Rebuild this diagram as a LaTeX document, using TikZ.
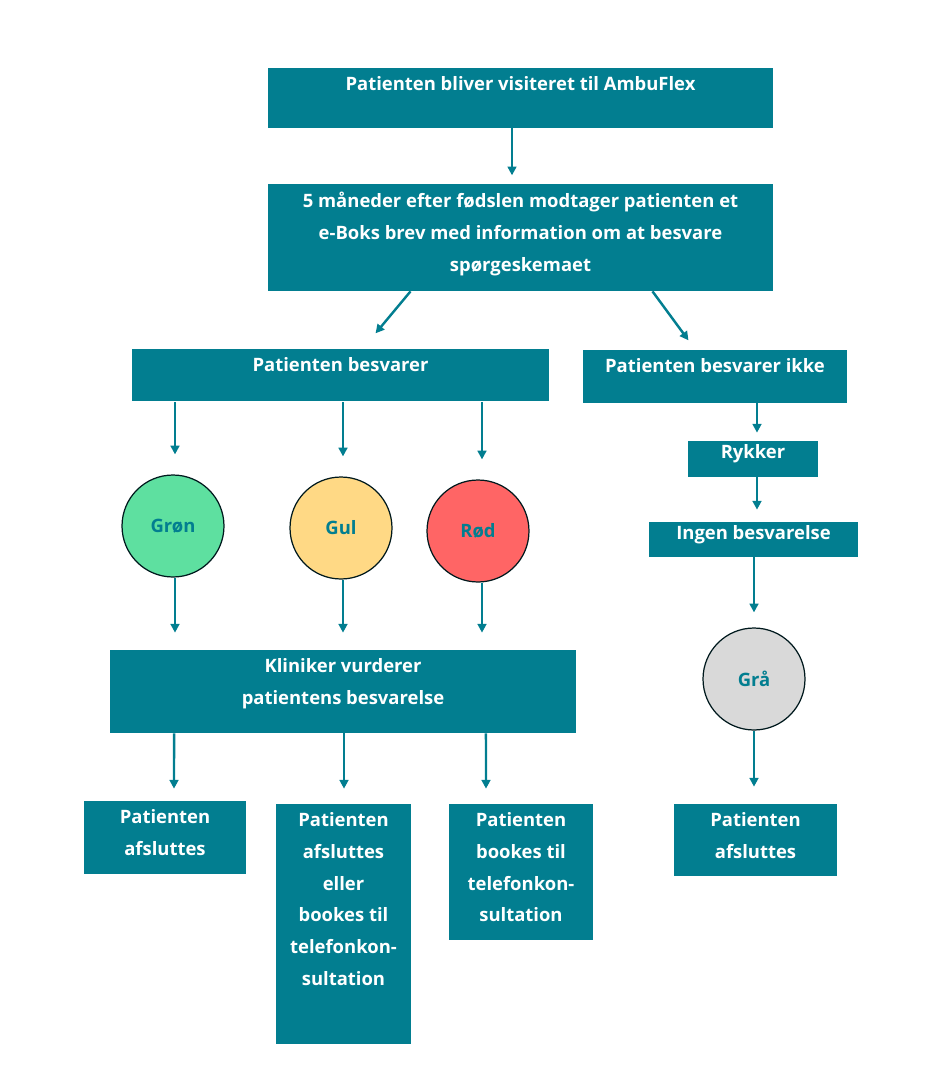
\documentclass[tikz,border=0pt]{standalone}
\usepackage{fontspec}
\setmainfont{Open Sans}
\usetikzlibrary{arrows.meta}
\definecolor{teal}{HTML}{027E90}
\definecolor{groen}{HTML}{5EE0A0}
\definecolor{gul}{HTML}{FFD985}
\definecolor{roed}{HTML}{FF6565}
\definecolor{graa}{HTML}{D9D9D9}
\begin{document}
\begin{tikzpicture}[x=0.02cm,y=-0.02cm,
    box/.style={fill=teal,draw=none,inner sep=0pt},
    txt/.style={text=white,font=\fontsize{10.5}{18.1}\selectfont\bfseries,align=center,inner sep=0pt,anchor=north,yshift=-0.17cm},
    cnode/.style={circle,draw=black!80!teal,line width=0.7pt,minimum size=2.04cm,inner sep=0pt,text=teal,font=\fontsize{10.5}{12}\selectfont\bfseries},
    arr/.style={-{Triangle[length=5pt,width=5pt]},teal,line width=1.4pt}]
    \useasboundingbox (0,0) rectangle (936,1072);
    % boxes
    \node[box,minimum width=10.1cm,minimum height=1.2cm] (top) at (520.5,98) {};
    \node[txt] at (top.north) {Patienten bliver visiteret til AmbuFlex};
    \node[box,minimum width=10.1cm,minimum height=2.14cm] (brev) at (520.5,237.5) {};
    \node[txt] at (brev.north) {5 måneder efter fødslen modtager patienten et\\e-Boks brev med information om at besvare\\spørgeskemaet};
    \node[box,minimum width=8.34cm,minimum height=1.04cm] (svar) at (340.5,375) {};
    \node[txt] at (svar.north) {Patienten besvarer};
    \node[box,minimum width=5.28cm,minimum height=1.06cm] (ikke) at (715,376.5) {};
    \node[txt] at (ikke.north) {Patienten besvarer ikke};
    \node[box,minimum width=2.6cm,minimum height=0.72cm] (rykker) at (753,459) {};
    \node[txt,yshift=0.1cm] at (rykker.north) {Rykker};
    \node[box,minimum width=4.18cm,minimum height=0.7cm] (ingen) at (753.5,539.5) {};
    \node[txt,yshift=0.1cm] at (ingen.north) {Ingen besvarelse};
    \node[box,minimum width=9.32cm,minimum height=1.66cm] (klin) at (343,691.5) {};
    \node[txt] at (klin.north) {Kliniker vurderer\\patientens besvarelse};
    \node[box,minimum width=3.24cm,minimum height=1.46cm] (afs1) at (165,837.5) {};
    \node[txt] at (afs1.north) {Patienten\\afsluttes};
    \node[box,minimum width=2.7cm,minimum height=4.8cm] (afs2) at (343.5,924) {};
    \node[txt] at (afs2.north) {Patienten\\afsluttes\\eller\\bookes til\\telefonkon-\\sultation};
    \node[box,minimum width=2.88cm,minimum height=2.72cm] (book) at (521,872) {};
    \node[txt] at (book.north) {Patienten\\bookes til\\telefonkon-\\sultation};
    \node[box,minimum width=3.26cm,minimum height=1.44cm] (afs3) at (755.5,840) {};
    \node[txt] at (afs3.north) {Patienten\\afsluttes};
    % circles
    \node[cnode,fill=groen] (groen) at (173,526) {Grøn};
    \node[cnode,fill=gul] (gul) at (341,528) {Gul};
    \node[cnode,fill=roed] (roed) at (478,531) {Rød};
    \node[cnode,fill=graa] (graa) at (754,679) {Grå};

    \draw[arr] (top.south -| 512,0) -- ([yshift=-0.94cm]top.south -| 512,0);
    \draw[arr] ([xshift=-2.2cm]brev.south) -- ([xshift=-2.9cm,yshift=-0.84cm]brev.south);
    \draw[arr] ([xshift=2.64cm]brev.south) -- ([xshift=3.36cm,yshift=-0.98cm]brev.south);
    \foreach \x/\c in {175/groen,343/gul,482/roed} {
      \draw[arr] ([yshift=-0.02cm]svar.south -| \x,0) -- ([yshift=0.4cm]\c.north -| \x,0);
      \draw[arr] (\c.south -| \x,0) -- ([yshift=0.34cm]klin.north -| \x,0);
    }
    \draw[arr] ([xshift=-3.38cm]klin.south) -- ([yshift=0.24cm]afs1.north -| 174,0);
    \draw[arr] ([xshift=0.02cm]klin.south) -- ([yshift=0.3cm]afs2.north -| 344,0);
    \draw[arr] ([xshift=2.86cm]klin.south) -- ([yshift=0.3cm]book.north -| 486,0);
    \draw[arr] (ikke.south -| 757,0) -- ([yshift=0.16cm]rykker.north -| 757,0);
    \draw[arr] (rykker.south -| 757,0) -- ([yshift=0.24cm]ingen.north -| 757,0);
    \draw[arr] (ingen.south -| 754,0) -- ([yshift=0.3cm]graa.north);
    \draw[arr] (graa.south) -- ([yshift=0.34cm]afs3.north -| 754,0);
\end{tikzpicture}
\end{document}
